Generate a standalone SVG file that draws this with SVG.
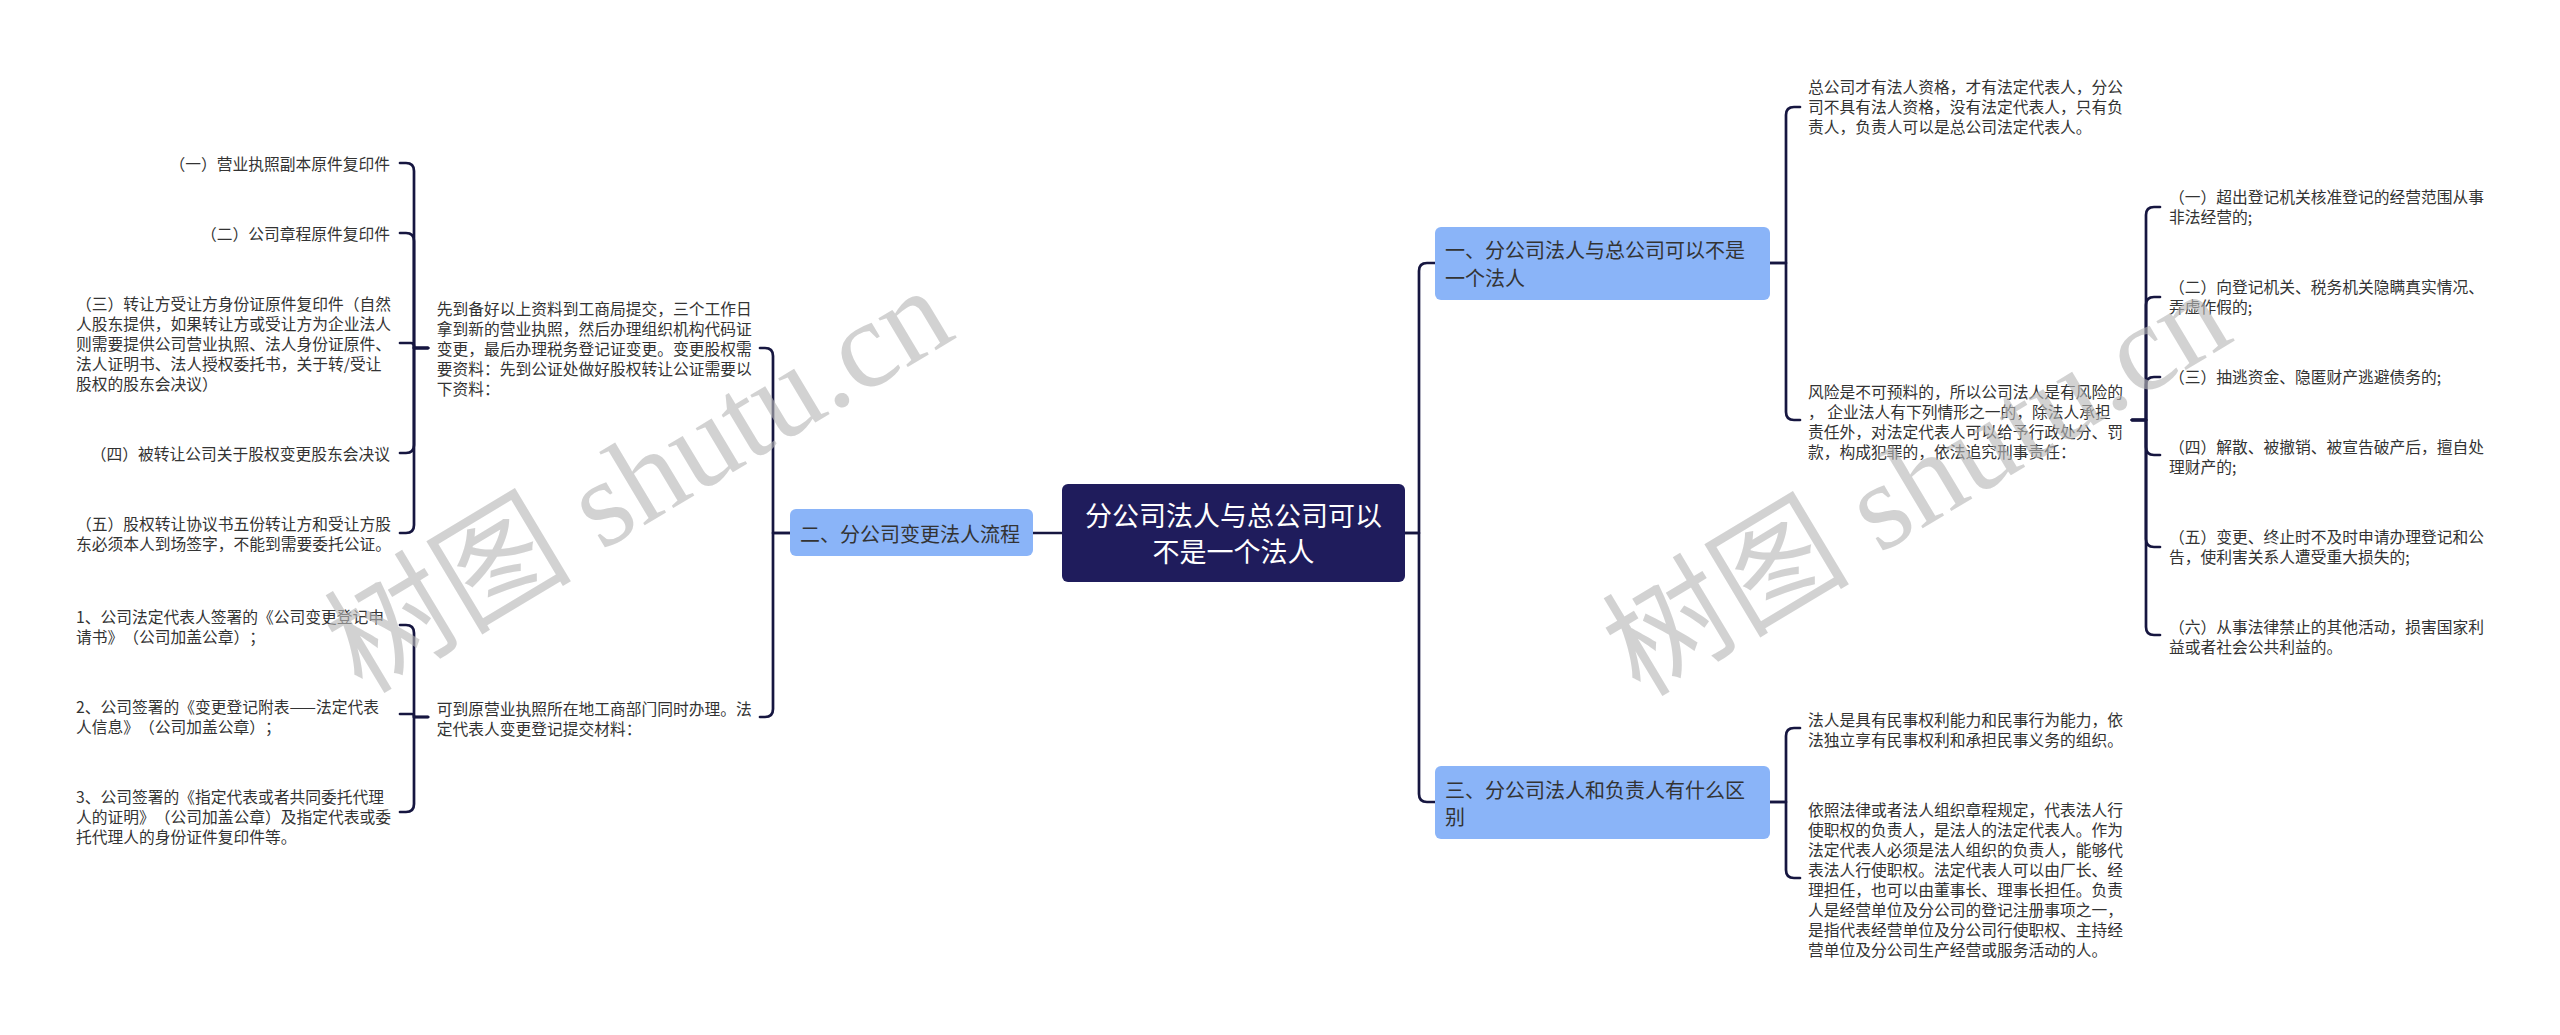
<svg xmlns="http://www.w3.org/2000/svg" width="2560" height="1035" viewBox="0 0 2560 1035">
<style>
text{text-spacing-trim:space-all;}
.t{font-family:"Noto Sans CJK SC","Noto Sans",sans-serif;font-size:15.75px;fill:#333333;}
.b{font-family:"Noto Sans CJK SC","Noto Sans",sans-serif;font-size:20px;fill:#333333;}
.r{font-family:"Noto Sans CJK SC","Noto Sans",sans-serif;font-size:27px;fill:#ffffff;}
.c{fill:none;stroke:#161640;stroke-width:2.7;stroke-linecap:round;stroke-linejoin:round;}
.bn{fill:#8ab4f8;}
.wm{font-family:"Liberation Serif","Noto Sans CJK SC",serif;font-size:124px;fill:#b8b8b8;opacity:0.62;}
</style>
<rect x="0" y="0" width="2560" height="1035" fill="#ffffff"/>
<g id="connectors">
<path class="c" d="M1062,533 H1033"/>
<path class="c" d="M1405,533 H1419 V271 Q1419,263 1427,263 H1435"/>
<path class="c" d="M1405,533 H1419 V794 Q1419,802 1427,802 H1435"/>
<path class="c" d="M790,533 H773 V356 Q773,348 765,348 H760"/>
<path class="c" d="M790,533 H773 V709 Q773,717 765,717 H760"/>
<path class="c" d="M428,348 H414 V171 Q414,163 406,163 H400"/>
<path class="c" d="M428,348 H414 V241 Q414,233 406,233 H400"/>
<path class="c" d="M428,348 H414 V346 Q414,343 411,343 H400"/>
<path class="c" d="M428,348 H414 V445 Q414,453 406,453 H400"/>
<path class="c" d="M428,348 H414 V525 Q414,533 406,533 H400"/>
<path class="c" d="M428,717 H414 V633 Q414,625 406,625 H400"/>
<path class="c" d="M428,717 H414 V716 Q414,714 412,714 H400"/>
<path class="c" d="M428,717 H414 V804 Q414,812 406,812 H400"/>
<path class="c" d="M1770,263 H1786 V115 Q1786,107 1794,107 H1800"/>
<path class="c" d="M1770,263 H1786 V412 Q1786,420 1794,420 H1800"/>
<path class="c" d="M2132,420 H2146 V215 Q2146,207 2154,207 H2160"/>
<path class="c" d="M2132,420 H2146 V305 Q2146,297 2154,297 H2160"/>
<path class="c" d="M2132,420 H2146 V385 Q2146,377 2154,377 H2160"/>
<path class="c" d="M2132,420 H2146 V447 Q2146,455 2154,455 H2160"/>
<path class="c" d="M2132,420 H2146 V539 Q2146,547 2154,547 H2160"/>
<path class="c" d="M2132,420 H2146 V627 Q2146,635 2154,635 H2160"/>
<path class="c" d="M1770,802 H1786 V736 Q1786,728 1794,728 H1800"/>
<path class="c" d="M1770,802 H1786 V870 Q1786,878 1794,878 H1800"/>
</g>
<g id="root">
<rect x="1062" y="484" width="343" height="98" rx="6" fill="#1f1c5c"/>
<text class="r" x="1233.5" y="525.5" text-anchor="middle">分公司法人与总公司可以</text>
<text class="r" x="1233.5" y="562" text-anchor="middle">不是一个法人</text>
</g>
<g id="branch-2">
<rect class="bn" x="790" y="509" width="243" height="47" rx="6"/>
<text class="b" x="800" y="542">二、分公司变更法人流程</text>
</g>
<g id="branch-1">
<rect class="bn" x="1435" y="227" width="335" height="73" rx="6"/>
<text class="b" x="1445" y="258">一、分公司法人与总公司可以不是</text>
<text class="b" x="1445" y="285.5">一个法人</text>
</g>
<g id="branch-3">
<rect class="bn" x="1435" y="766" width="335" height="73" rx="6"/>
<text class="b" x="1445" y="798">三、分公司法人和负责人有什么区</text>
<text class="b" x="1445" y="824.5">别</text>
</g>
<g id="n2-1">
<text class="t" x="436.7" y="314.7">先到备好以上资料到工商局提交，三个工作日</text>
<text class="t" x="436.7" y="334.7">拿到新的营业执照，然后办理组织机构代码证</text>
<text class="t" x="436.7" y="354.7">变更，最后办理税务登记证变更。变更股权需</text>
<text class="t" x="436.7" y="374.7">要资料：先到公证处做好股权转让公证需要以</text>
<text class="t" x="436.7" y="394.7">下资料：</text>
</g>
<g id="n2-2">
<text class="t" x="436.7" y="714.7">可到原营业执照所在地工商部门同时办理。法</text>
<text class="t" x="436.7" y="734.7">定代表人变更登记提交材料：</text>
</g>
<g id="n2-1-1"><text class="t" x="390" y="169.5" text-anchor="end">（一）营业执照副本原件复印件</text></g>
<g id="n2-1-2"><text class="t" x="390" y="239.5" text-anchor="end">（二）公司章程原件复印件</text></g>
<g id="n2-1-3">
<text class="t" x="76" y="309.7">（三）转让方受让方身份证原件复印件（自然</text>
<text class="t" x="76" y="329.7">人股东提供，如果转让方或受让方为企业法人</text>
<text class="t" x="76" y="349.7">则需要提供公司营业执照、法人身份证原件、</text>
<text class="t" x="76" y="369.7">法人证明书、法人授权委托书，关于转/受让</text>
<text class="t" x="76" y="389.7">股权的股东会决议）</text>
</g>
<g id="n2-1-4"><text class="t" x="390" y="459.5" text-anchor="end">（四）被转让公司关于股权变更股东会决议</text></g>
<g id="n2-1-5">
<text class="t" x="76" y="529.7">（五）股权转让协议书五份转让方和受让方股</text>
<text class="t" x="76" y="549.7">东必须本人到场签字，不能到需要委托公证。</text>
</g>
<g id="n2-2-1">
<text class="t" x="76" y="623">1、公司法定代表人签署的《公司变更登记申</text>
<text class="t" x="76" y="643">请书》（公司加盖公章）；</text>
</g>
<g id="n2-2-2">
<text class="t" x="76" y="713">2、公司签署的《变更登记附表——法定代表</text>
<text class="t" x="76" y="733">人信息》（公司加盖公章）；</text>
</g>
<g id="n2-2-3">
<text class="t" x="76" y="803">3、公司签署的《指定代表或者共同委托代理</text>
<text class="t" x="76" y="823">人的证明》（公司加盖公章）及指定代表或委</text>
<text class="t" x="76" y="843">托代理人的身份证件复印件等。</text>
</g>
<g id="n1-1">
<text class="t" x="1808" y="93">总公司才有法人资格，才有法定代表人，分公</text>
<text class="t" x="1808" y="113">司不具有法人资格，没有法定代表人，只有负</text>
<text class="t" x="1808" y="133">责人，负责人可以是总公司法定代表人。</text>
</g>
<g id="n1-2">
<text class="t" x="1808" y="398">风险是不可预料的，所以公司法人是有风险的</text>
<text class="t" x="1808" y="418">， 企业法人有下列情形之一的，除法人承担</text>
<text class="t" x="1808" y="438">责任外，对法定代表人可以给予行政处分、罚</text>
<text class="t" x="1808" y="458">款，构成犯罪的，依法追究刑事责任：</text>
</g>
<g id="n1-2-1">
<text class="t" x="2169" y="203">（一）超出登记机关核准登记的经营范围从事</text>
<text class="t" x="2169" y="223">非法经营的;</text>
</g>
<g id="n1-2-2">
<text class="t" x="2169" y="293">（二）向登记机关、税务机关隐瞒真实情况、</text>
<text class="t" x="2169" y="313">弄虚作假的;</text>
</g>
<g id="n1-2-3"><text class="t" x="2169" y="383">（三）抽逃资金、隐匿财产逃避债务的;</text></g>
<g id="n1-2-4">
<text class="t" x="2169" y="453">（四）解散、被撤销、被宣告破产后，擅自处</text>
<text class="t" x="2169" y="473">理财产的;</text>
</g>
<g id="n1-2-5">
<text class="t" x="2169" y="543">（五）变更、终止时不及时申请办理登记和公</text>
<text class="t" x="2169" y="563">告，使利害关系人遭受重大损失的;</text>
</g>
<g id="n1-2-6">
<text class="t" x="2169" y="633">（六）从事法律禁止的其他活动，损害国家利</text>
<text class="t" x="2169" y="653">益或者社会公共利益的。</text>
</g>
<g id="n3-1">
<text class="t" x="1808" y="726">法人是具有民事权利能力和民事行为能力，依</text>
<text class="t" x="1808" y="746">法独立享有民事权利和承担民事义务的组织。</text>
</g>
<g id="n3-2">
<text class="t" x="1808" y="816">依照法律或者法人组织章程规定，代表法人行</text>
<text class="t" x="1808" y="836">使职权的负责人，是法人的法定代表人。作为</text>
<text class="t" x="1808" y="856">法定代表人必须是法人组织的负责人，能够代</text>
<text class="t" x="1808" y="876">表法人行使职权。法定代表人可以由厂长、经</text>
<text class="t" x="1808" y="896">理担任，也可以由董事长、理事长担任。负责</text>
<text class="t" x="1808" y="916">人是经营单位及分公司的登记注册事项之一，</text>
<text class="t" x="1808" y="936">是指代表经营单位及分公司行使职权、主持经</text>
<text class="t" x="1808" y="956">营单位及分公司生产经营或服务活动的人。</text>
</g>
<g id="watermarks">
<text class="wm" transform="translate(362,695) rotate(-31)">树图 shutu.cn</text>
<text class="wm" transform="translate(1640,698) rotate(-31)">树图 shutu.cn</text>
</g>
</svg>
